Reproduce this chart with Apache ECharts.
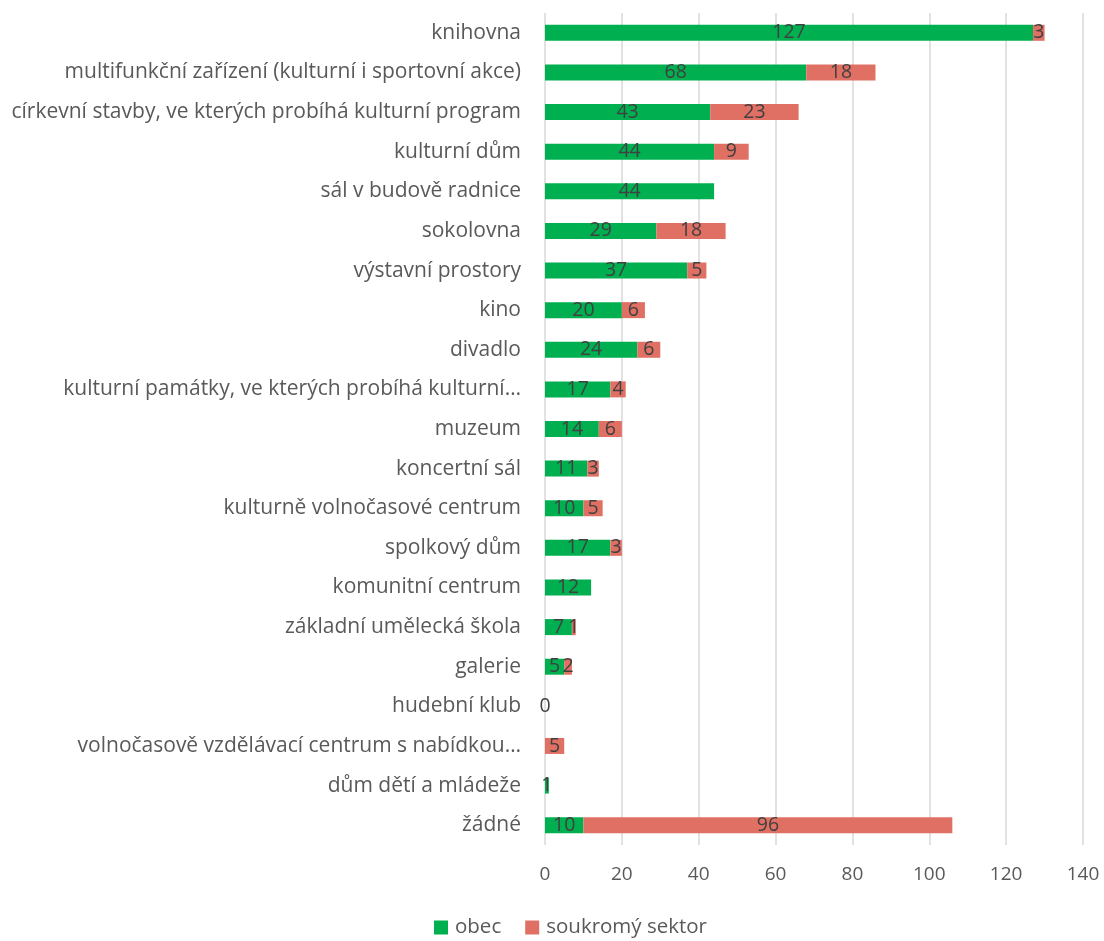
<!DOCTYPE html>
<html>
<head>
<meta charset="utf-8">
<script src="https://cdn.jsdelivr.net/npm/echarts@6/dist/echarts.min.js"></script>
<style>
html,body{margin:0;padding:0;background:#fff;}
#chart{width:1104px;height:941px;}
</style>
</head>
<body>
<div id="chart"></div>
<script>
const categories = [
  "knihovna",
  "multifunkční zařízení (kulturní i sportovní akce)",
  "církevní stavby, ve kterých probíhá kulturní program",
  "kulturní dům",
  "sál v budově radnice",
  "sokolovna",
  "výstavní prostory",
  "kino",
  "divadlo",
  "kulturní památky, ve kterých probíhá kulturní…",
  "muzeum",
  "koncertní sál",
  "kulturně volnočasové centrum",
  "spolkový dům",
  "komunitní centrum",
  "základní umělecká škola",
  "galerie",
  "hudební klub",
  "volnočasově vzdělávací centrum s nabídkou…",
  "dům dětí a mládeže",
  "žádné"
];
const obec = [127, 68, 43, 44, 44, 29, 37, 20, 24, 17, 14, 11, 10, 17, 12, 7, 5, 0, null, 1, 10];
const soukromy = [3, 18, 23, 9, null, 18, 5, 6, 6, 4, 6, 3, 5, 3, null, 1, 2, null, 5, null, 96];
const xTicks = [0, 20, 40, 60, 80, 100, 120, 140];

const FONT = "'Open Sans', 'Noto Sans', sans-serif";
const chart = echarts.init(document.getElementById('chart'), null, {renderer: 'canvas'});
const labelCfg = {
  show: true,
  position: 'inside',
  color: '#404040',
  fontSize: 19.5,
  fontFamily: FONT,
  formatter: p => (p.value === null || p.value === undefined || p.value === '-') ? '' : String(p.value)
};
chart.setOption({
  animation: false,
  textStyle: {fontFamily: FONT},
  grid: {left: 545, right: 21, top: 13, bottom: 96, containLabel: false},
  legend: {
    bottom: -2,
    left: 429,
    itemWidth: 14,
    itemHeight: 14,
    itemGap: 24,
    icon: 'rect',
    textStyle: {fontSize: 20.5, color: '#595959', fontFamily: FONT, padding: [0, 0, 0, 2]},
    data: ['obec', 'soukromý sektor']
  },
  xAxis: {
    type: 'value',
    min: xTicks[0],
    max: xTicks[xTicks.length - 1],
    interval: 20,
    axisLine: {show: false},
    axisTick: {show: false},
    splitLine: {show: true, lineStyle: {color: '#d9d9d9', width: 1.5}},
    axisLabel: {fontSize: 19, color: '#595959', fontFamily: FONT, margin: 20}
  },
  yAxis: {
    type: 'category',
    inverse: true,
    data: categories,
    axisLine: {show: false},
    axisTick: {show: false},
    axisLabel: {fontSize: 21, color: '#595959', fontFamily: FONT, margin: 24}
  },
  series: [
    {
      name: 'obec', type: 'bar', stack: 'a', data: obec,
      barWidth: 16,
      itemStyle: {color: '#00b050'},
      label: labelCfg
    },
    {
      name: 'soukromý sektor', type: 'bar', stack: 'a', data: soukromy,
      barWidth: 16,
      itemStyle: {color: '#e07064'},
      label: labelCfg
    }
  ]
});
</script>
</body>
</html>
